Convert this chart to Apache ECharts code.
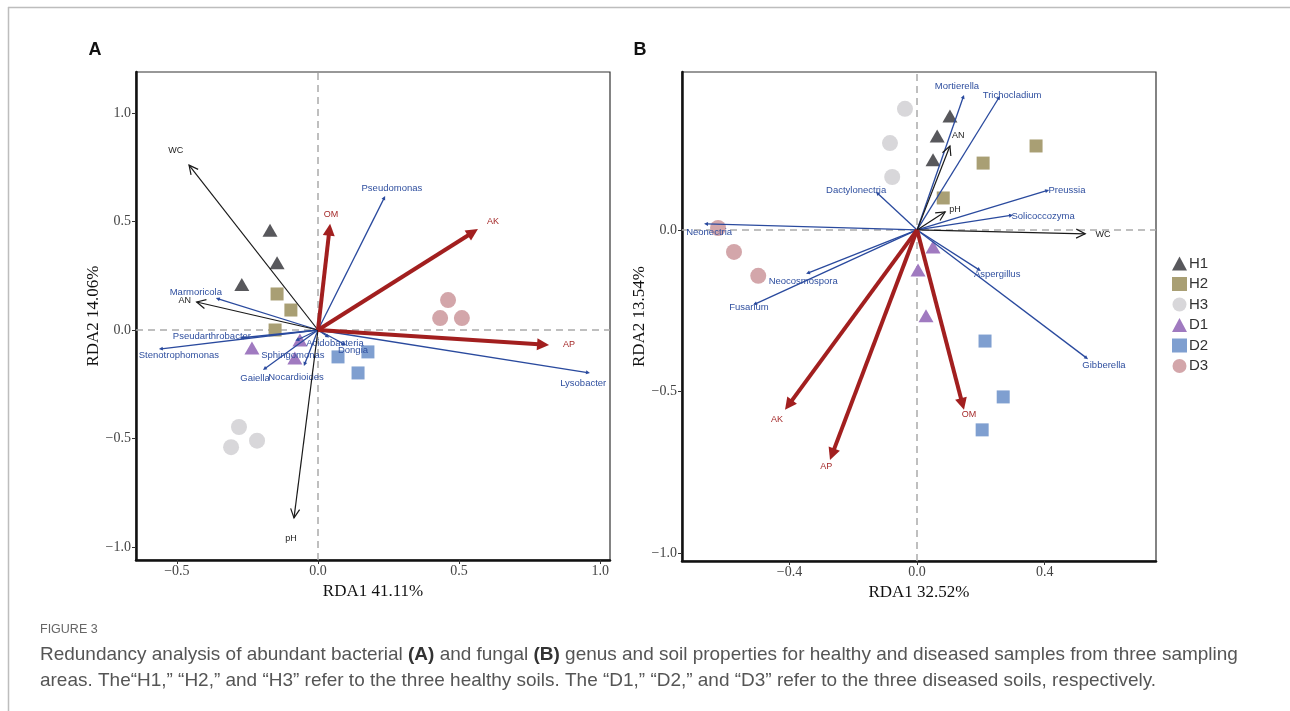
<!DOCTYPE html>
<html><head><meta charset="utf-8">
<script src="https://cdn.jsdelivr.net/npm/echarts@6/dist/echarts.min.js"></script>
<style>html,body{margin:0;padding:0;background:#fff}#c{width:1290px;height:711px}</style>
</head><body><div id="c"></div>
<script>
// ---------------- DATA ----------------
const groups = ['H1', 'H2', 'H3', 'D1', 'D2', 'D3'];

// Panel A (bacteria) sample scores [RDA1, RDA2]
const bacH1 = [[-0.17, 0.46], [-0.145, 0.31], [-0.27, 0.21]];
const bacH2 = [[-0.145, 0.166], [-0.096, 0.092], [-0.152, 0.0]];
const bacH3 = [[-0.28, -0.447], [-0.216, -0.51], [-0.308, -0.54]];
const bacD1 = [[-0.234, -0.083], [-0.064, -0.046], [-0.082, -0.129]];
const bacD2 = [[0.071, -0.124], [0.177, -0.101], [0.142, -0.198]];
const bacD3 = [[0.461, 0.138], [0.433, 0.055], [0.51, 0.055]];

// Panel A environmental vectors
const bacEnvNames = ['WC', 'AN', 'pH', 'OM', 'AK', 'AP'];
const bacEnvX = [-0.457, -0.43, -0.085, 0.043, 0.567, 0.819];
const bacEnvY = [0.76, 0.129, -0.866, 0.49, 0.465, -0.069];
const bacEnvLabX = [-0.504, -0.472, -0.096, 0.046, 0.62, 0.89];
const bacEnvLabY = [0.829, 0.138, -0.963, 0.53, 0.502, -0.069];

// Panel A genus vectors
const bacSpNames = ['Pseudomonas', 'Marmoricola', 'Pseudarthrobacter', 'Stenotrophomonas', 'Gaiella',
  'Sphingomonas', 'Nocardioides', 'Acidobacteria', 'Dongia', 'Lysobacter'];
const bacSpX = [0.238, -0.362, -0.277, -0.564, -0.195, -0.08, -0.05, 0.04, 0.1, 0.964];
const bacSpY = [0.617, 0.147, -0.037, -0.088, -0.184, -0.05, -0.166, -0.035, -0.07, -0.198];
const bacSpLabX = [0.262, -0.433, -0.376, -0.493, -0.223, -0.089, -0.078, 0.06, 0.124, 0.94];
const bacSpLabY = [0.654, 0.175, -0.028, -0.115, -0.221, -0.115, -0.217, -0.06, -0.092, -0.244];

// Panel B (fungi) sample scores
const funH1 = [[0.103, 0.353], [0.063, 0.291], [0.05, 0.217]];
const funH2 = [[0.373, 0.26], [0.207, 0.207], [0.082, 0.099]];
const funH3 = [[-0.038, 0.375], [-0.085, 0.269], [-0.078, 0.164]];
const funD1 = [[0.05, -0.053], [0.003, -0.124], [0.028, -0.266]];
const funD2 = [[0.213, -0.344], [0.27, -0.517], [0.204, -0.619]];
const funD3 = [[-0.624, 0.006], [-0.574, -0.068], [-0.498, -0.142]];

// Panel B environmental vectors
const funEnvNames = ['WC', 'AN', 'pH', 'OM', 'AK', 'AP'];
const funEnvX = [0.527, 0.103, 0.088, 0.147, -0.414, -0.273];
const funEnvY = [-0.012, 0.26, 0.056, -0.557, -0.557, -0.712];
const funEnvLabX = [0.583, 0.129, 0.119, 0.163, -0.439, -0.285];
const funEnvLabY = [-0.015, 0.291, 0.062, -0.57, -0.588, -0.734];

// Panel B genus vectors
const funSpNames = ['Mortierella', 'Trichocladium', 'Dactylonectria', 'Preussia', 'Solicoccozyma',
  'Neonectria', 'Neocosmospora', 'Fusarium', 'Aspergillus', 'Gibberella'];
const funSpX = [0.147, 0.26, -0.129, 0.414, 0.301, -0.668, -0.348, -0.514, 0.2, 0.536];
const funSpY = [0.418, 0.415, 0.118, 0.124, 0.046, 0.019, -0.136, -0.232, -0.127, -0.4];
const funSpLabX = [0.125, 0.298, -0.191, 0.47, 0.395, -0.652, -0.357, -0.527, 0.251, 0.586];
const funSpLabY = [0.443, 0.418, 0.124, 0.124, 0.043, -0.006, -0.158, -0.241, -0.139, -0.418];

// Tick labels
const bacXTicks = [-0.5, 0.0, 0.5, 1.0];
const bacYTicks = [-1.0, -0.5, 0.0, 0.5, 1.0];
const funXTicks = [-0.4, 0.0, 0.4];
const funYTicks = [-1.0, -0.5, 0.0];

const captionTitle = 'FIGURE 3';
const captionLine1 = 'Redundancy analysis of abundant bacterial {b|(A)} and fungal {b|(B)} genus and soil properties for healthy and diseased samples from three sampling';
const captionLine1Plain = 'Redundancy analysis of abundant bacterial (A) and fungal (B) genus and soil properties for healthy and diseased samples from three sampling';
const captionLine2 = 'areas. The\u201cH1,\u201d \u201cH2,\u201d and \u201cH3\u201d refer to the three healthy soils. The \u201cD1,\u201d \u201cD2,\u201d and \u201cD3\u201d refer to the three diseased soils, respectively.';

// ---------------- STYLE ----------------
const bacScores = { H1: bacH1, H2: bacH2, H3: bacH3, D1: bacD1, D2: bacD2, D3: bacD3 };
const funScores = { H1: funH1, H2: funH2, H3: funH3, D1: funD1, D2: funD2, D3: funD3 };
const SYM = { H1: 'triangle', H2: 'rect', H3: 'circle', D1: 'triangle', D2: 'rect', D3: 'circle' };
const SIZE = { triangle: [15, 13], rect: 13, circle: 16 };
const COL = { H1: '#58585c', H2: '#a99f74', H3: '#d8d7da', D1: '#a07ac0', D2: '#7f9fd0', D3: '#d3a6aa' };
const ARROW = {
  env: { color: '#1a1a1a', width: 1.2, head: 9, hw: 4.5, filled: false, font: 9, labCol: '#222' },
  red: { color: '#a21f1f', width: 4, head: 12, hw: 6, filled: true, font: 9, labCol: '#a52a2a' },
  sp: { color: '#2a4a9e', width: 1.3, head: 4, hw: 2, filled: true, font: 9.5, labCol: '#2f4f9f' }
};
const SERIF = "'Liberation Serif', 'DejaVu Serif', serif";
const SANS = "'Liberation Sans', Arial, sans-serif";
const fmt = v => (Math.abs(v) < 1e-9 ? '0.0' : v.toFixed(1)).replace('-', '\u2212');

function arrowSeries(ax, names, xs, ys, lxs, lys, kinds) {
  const data = names.map((n, i) => ({ name: n, value: [xs[i], ys[i], lxs[i], lys[i], i] }));
  return {
    type: 'custom', xAxisIndex: ax, yAxisIndex: ax, data, clip: false, z: 5, silent: true,
    encode: { x: 0, y: 1 },
    renderItem: (params, api) => {
      const i = api.value(4);
      const st = ARROW[kinds[i]];
      const o = api.coord([0, 0]);
      const t = api.coord([api.value(0), api.value(1)]);
      const l = api.coord([api.value(2), api.value(3)]);
      const dx = t[0] - o[0], dy = t[1] - o[1];
      const len = Math.hypot(dx, dy) || 1;
      const ux = dx / len, uy = dy / len, px = -uy, py = ux;
      const back = [t[0] - ux * st.head, t[1] - uy * st.head];
      const p1 = [back[0] + px * st.hw, back[1] + py * st.hw];
      const p2 = [back[0] - px * st.hw, back[1] - py * st.hw];
      const children = [];
      const end = st.filled ? [back[0] + ux * 1.5, back[1] + uy * 1.5] : t;
      children.push({ type: 'line', shape: { x1: o[0], y1: o[1], x2: end[0], y2: end[1] },
        style: { stroke: st.color, lineWidth: st.width } });
      if (st.filled) {
        children.push({ type: 'polygon', shape: { points: [t, p1, p2] }, style: { fill: st.color } });
      } else {
        children.push({ type: 'polyline', shape: { points: [p1, t, p2] },
          style: { stroke: st.color, lineWidth: st.width, fill: 'none' } });
      }
      children.push({ type: 'text', x: l[0], y: l[1],
        style: { text: names[i], fill: st.labCol, fontSize: st.font, fontFamily: SANS,
          align: 'center', verticalAlign: 'middle' } });
      return { type: 'group', children };
    }
  };
}

function scatterSeries(ax, scores) {
  return groups.map((g, k) => {
    const s = {
      name: g, type: 'scatter', xAxisIndex: ax, yAxisIndex: ax, symbol: SYM[g],
      symbolSize: SIZE[SYM[g]], itemStyle: { color: COL[g], opacity: 1 }, data: scores[g], z: 3, silent: true
    };
    if (k === 0) {
      s.markLine = {
        silent: true, symbol: 'none', label: { show: false },
        lineStyle: { color: '#aaaaaa', type: [7, 5], width: 1.5 },
        data: [{ xAxis: 0 }, { yAxis: 0 }], z: 1
      };
    }
    return s;
  });
}

function xAxisCfg(idx, min, max, ticks, name) {
  return {
    type: 'value', gridIndex: idx, min, max, name, nameLocation: 'middle', nameGap: 14,
    nameTextStyle: { fontFamily: SERIF, fontSize: 17, color: '#111', verticalAlign: 'top' },
    axisLine: { show: true, onZero: false, lineStyle: { color: '#111', width: 2.5 } },
    axisTick: { show: true, customValues: ticks, length: 4, lineStyle: { color: '#333' } },
    axisLabel: { customValues: ticks, formatter: fmt, fontFamily: SERIF, fontSize: 14, color: '#444', margin: 4 },
    splitLine: { show: false }
  };
}
function yAxisCfg(idx, min, max, ticks, name) {
  return {
    type: 'value', gridIndex: idx, min, max, name, nameLocation: 'middle', nameGap: 28, nameRotate: 90,
    nameTextStyle: { fontFamily: SERIF, fontSize: 17, color: '#111' },
    axisLine: { show: true, onZero: false, lineStyle: { color: '#111', width: 2.5 } },
    axisTick: { show: true, customValues: ticks, length: 4, lineStyle: { color: '#333' } },
    axisLabel: { customValues: ticks, formatter: fmt, fontFamily: SERIF, fontSize: 14, color: '#444', margin: 5 },
    splitLine: { show: false }
  };
}

// fit caption font size to reference line width
function fitSize(text, family, target) {
  const c = document.createElement('canvas').getContext('2d');
  c.font = '16px ' + family;
  return 16 * target / c.measureText(text).width;
}
const capSize = fitSize(captionLine1Plain, SANS, 1197);

const chart = echarts.init(document.getElementById('c'), null, { renderer: 'canvas' });
const bacKindsEnv = ['env', 'env', 'env', 'red', 'red', 'red'];
const spKinds = bacSpNames.map(() => 'sp');

chart.setOption({
  animation: false,
  backgroundColor: '#fff',
  grid: [
    { left: 136, top: 72, width: 474, height: 488, show: true, borderColor: '#333', borderWidth: 1.2, backgroundColor: 'transparent' },
    { left: 682, top: 72, width: 474, height: 489, show: true, borderColor: '#333', borderWidth: 1.2, backgroundColor: 'transparent' }
  ],
  xAxis: [
    xAxisCfg(0, -0.645, 1.035, bacXTicks, 'RDA1 41.11%'),
    xAxisCfg(1, -0.737, 0.749, funXTicks, 'RDA1 32.52%')
  ],
  yAxis: [
    yAxisCfg(0, -1.06, 1.189, bacYTicks, 'RDA2 14.06%'),
    yAxisCfg(1, -1.025, 0.489, funYTicks, 'RDA2 13.54%')
  ],
  legend: {
    orient: 'vertical', left: 1167, top: 251, itemGap: 5.5, itemWidth: 15, itemHeight: 14,
    data: groups, selectedMode: false,
    textStyle: { fontFamily: SANS, fontSize: 15, color: '#333', padding: [0, 0, 0, -3] }
  },
  series: [
    ...scatterSeries(0, bacScores),
    ...scatterSeries(1, funScores),
    arrowSeries(0, bacSpNames, bacSpX, bacSpY, bacSpLabX, bacSpLabY, spKinds),
    arrowSeries(0, bacEnvNames, bacEnvX, bacEnvY, bacEnvLabX, bacEnvLabY, bacKindsEnv),
    arrowSeries(1, funSpNames, funSpX, funSpY, funSpLabX, funSpLabY, spKinds),
    arrowSeries(1, funEnvNames, funEnvX, funEnvY, funEnvLabX, funEnvLabY, bacKindsEnv)
  ],
  graphic: [
    { type: 'line', shape: { x1: 8, y1: 7.5, x2: 1290, y2: 7.5 }, style: { stroke: '#bdbdbd', lineWidth: 1.5 } },
    { type: 'line', shape: { x1: 8.5, y1: 7, x2: 8.5, y2: 711 }, style: { stroke: '#bdbdbd', lineWidth: 1.5 } },
    { type: 'text', x: 95, y: 50, style: { text: 'A', fontFamily: SANS, fontWeight: 'bold', fontSize: 18, fill: '#111', align: 'center', verticalAlign: 'middle' } },
    { type: 'text', x: 640, y: 50, style: { text: 'B', fontFamily: SANS, fontWeight: 'bold', fontSize: 18, fill: '#111', align: 'center', verticalAlign: 'middle' } },
    { type: 'text', x: 40, y: 630, style: { text: captionTitle, fontFamily: SANS, fontSize: 12.5, fill: '#666', align: 'left', verticalAlign: 'middle' } },
    { type: 'text', x: 40, y: 655, style: { text: captionLine1, fontFamily: SANS, fontSize: capSize, fill: '#555', align: 'left', verticalAlign: 'middle',
      rich: { b: { fontFamily: SANS, fontSize: capSize, fontWeight: 'bold', fill: '#333' } } } },
    { type: 'text', x: 40, y: 681, style: { text: captionLine2, fontFamily: SANS, fontSize: capSize, fill: '#555', align: 'left', verticalAlign: 'middle' } }
  ]
});
</script></body></html>
